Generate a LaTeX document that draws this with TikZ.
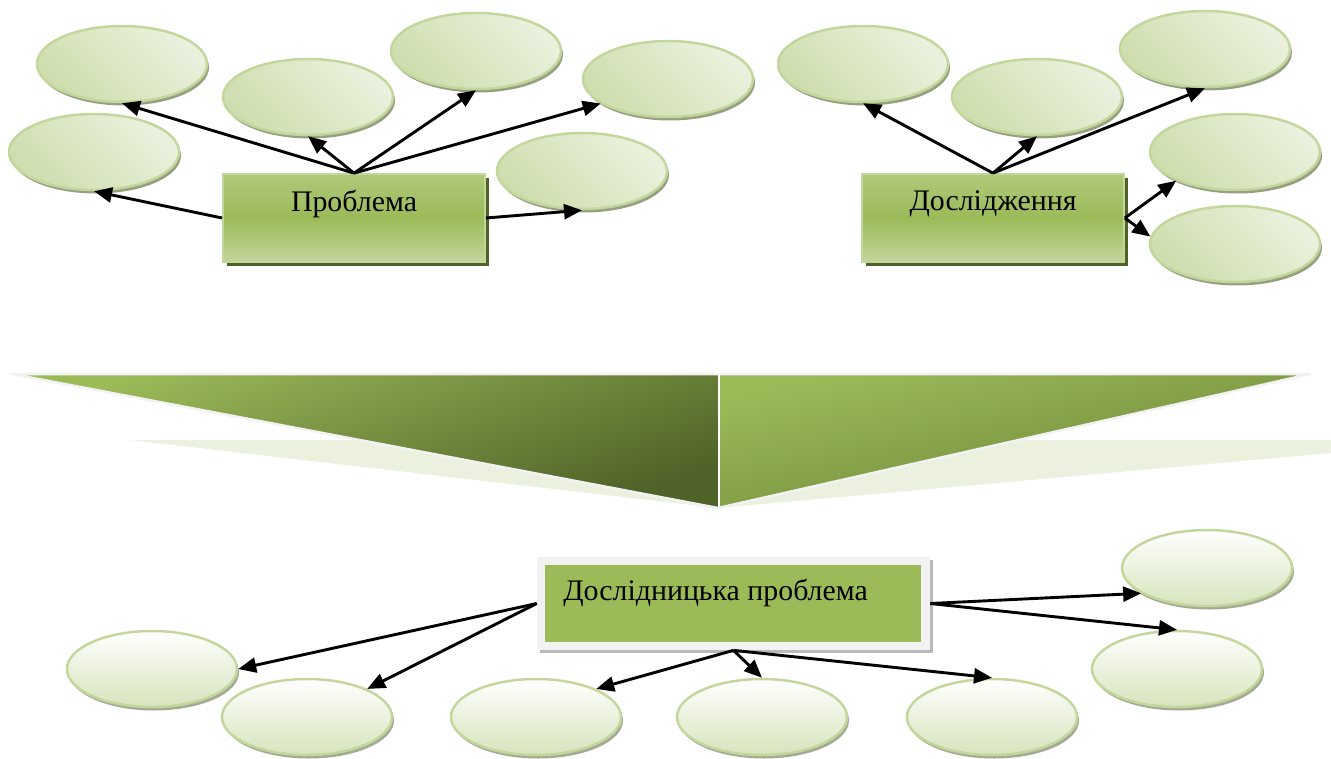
\documentclass[tikz,border=0pt]{standalone}
\usepackage{fontspec}
\setmainfont{Liberation Serif}
\usetikzlibrary{arrows.meta, shapes.geometric, shadows}
\definecolor{olivelight}{HTML}{EBF1DE}
\definecolor{olivepale}{HTML}{D7E4BD}
\definecolor{oliveedge}{HTML}{C3D69B}
\definecolor{olivemid}{HTML}{9BBB59}
\definecolor{olivedeep}{HTML}{77933C}
\definecolor{olivedark}{HTML}{4F6228}
\definecolor{framegray}{HTML}{F2F2F2}

\begin{document}
\begin{tikzpicture}[
  x=0.02cm, y=-0.02cm,
  topoval/.style={ellipse, draw=oliveedge, line width=1.4pt,
    minimum width=3.4cm, minimum height=1.52cm,
    top color=olivelight, bottom color=olivepale!85!olivemid, shading angle=-45,
    drop shadow={shadow xshift=0.04cm, shadow yshift=-0.07cm, fill=olivedeep!45!gray!80, opacity=1}},
  botoval/.style={ellipse, draw=oliveedge, line width=1.4pt,
    minimum width=3.4cm, minimum height=1.52cm,
    top color=white, bottom color=olivepale,
    drop shadow={shadow xshift=0.04cm, shadow yshift=-0.07cm, fill=olivedeep!35!gray!70, opacity=1}},
  greenbox/.style={rectangle, draw=oliveedge, line width=1pt,
    minimum width=5.24cm, minimum height=1.76cm,
    top color=olivemid!80!white, bottom color=olivemid!60!white, middle color=olivemid,
    drop shadow={shadow xshift=0.08cm, shadow yshift=-0.08cm, fill=olivedark, opacity=1}},
  framebox/.style={rectangle, fill=framegray, minimum width=7.86cm, minimum height=1.86cm,
    drop shadow={shadow xshift=0.06cm, shadow yshift=-0.06cm, fill=gray!55, opacity=1}},
  boxtext/.style={font=\fontsize{17}{20}\selectfont, inner sep=0pt},
  arrow/.style={-{Triangle[length=0.36cm, width=0.3cm]}, line width=0.058cm},
]
\useasboundingbox (0,0) rectangle (1331,758);

% ---- TOP LEFT: problem ----
\node[topoval] (p1) at (122,64) {};
\node[topoval] (p2) at (94,152) {};
\node[topoval] (p3) at (308,97) {};
\node[topoval] (p4) at (476,51) {};
\node[topoval] (p5) at (668,79) {};
\node[topoval] (p6) at (582,171) {};
\node[greenbox] (prob) at (354,218) {};
\node[boxtext] (probtxt) at (354,204) {Проблема};
\draw[arrow] (prob.north) -- (p1.south);
\draw[arrow] (prob.north) -- (p3.south);
\draw[arrow] (prob.north) -- (p4.south);
\draw[arrow] (prob.north) -- (p5.200);
\draw[arrow] (prob.west) -- (p2.south);
\draw[arrow] (prob.east) -- (p6.south);

% ---- TOP RIGHT: research ----
\node[topoval] (d1) at (863,64) {};
\node[topoval] (d2) at (1037,97) {};
\node[topoval] (d3) at (1205,49) {};
\node[topoval] (d4) at (1235,152) {};
\node[topoval] (d5) at (1235,244) {};
\node[greenbox] (resr) at (993,218) {};
\node[boxtext] (resrtxt) at (993,204) {Дослідження};
\draw[arrow] (resr.north) -- (d1.south);
\draw[arrow] (resr.north) -- (d2.south);
\draw[arrow] (resr.north) -- (d3.south);
\draw[arrow] (resr.east) -- (d4.206);
\draw[arrow] (resr.east) -- (d5.175);

% ---- MIDDLE: big down arrow ----
\fill[olivelight] (130,440) -- (1331,440) -- (1331,453) -- (718,508) -- cycle;
\shade[top color=olivemid, bottom color=olivedark, shading angle=20]
  (12,374) -- (718,374) -- (718,508) -- cycle;
\shade[top color=olivemid, bottom color=olivedeep!70!olivedark, shading angle=13]
  (720,374) -- (1310,374) -- (720,508) -- cycle;
\draw[framegray, line width=0.05cm, line join=round] (12,374) -- (1310,374) -- (718,508) -- cycle;
\draw[white, line width=0.04cm] (719,374) -- (719,508);

% ---- BOTTOM: research problem ----
\node[framebox] (rp) at (733.5,603.5) {};
\fill[olivemid] ([shift={(8,8)}]rp.north west) rectangle ([shift={(-9,-8)}]rp.south east);
\node[boxtext, anchor=west] (rptxt) at (563,593) {Дослідницька проблема};
\node[botoval] (b1) at (152,669) {};
\node[botoval] (b2) at (307,717) {};
\node[botoval] (b3) at (536,717) {};
\node[botoval] (b4) at (762,717) {};
\node[botoval] (b5) at (992,717) {};
\node[botoval] (b6) at (1207,568) {};
\node[botoval] (b7) at (1177,669) {};
\draw[arrow] (rp.west) -- (b1.east);
\draw[arrow] (rp.west) -- (b2.25);
\draw[arrow] (rp.south) -- (b3.25);
\draw[arrow] (rp.south) -- (b4.north);
\draw[arrow] (rp.south) -- (b5.north);
\draw[arrow] (rp.east) -- (b6.201);
\draw[arrow] (rp.east) -- (b7.north);

\end{tikzpicture}
\end{document}
